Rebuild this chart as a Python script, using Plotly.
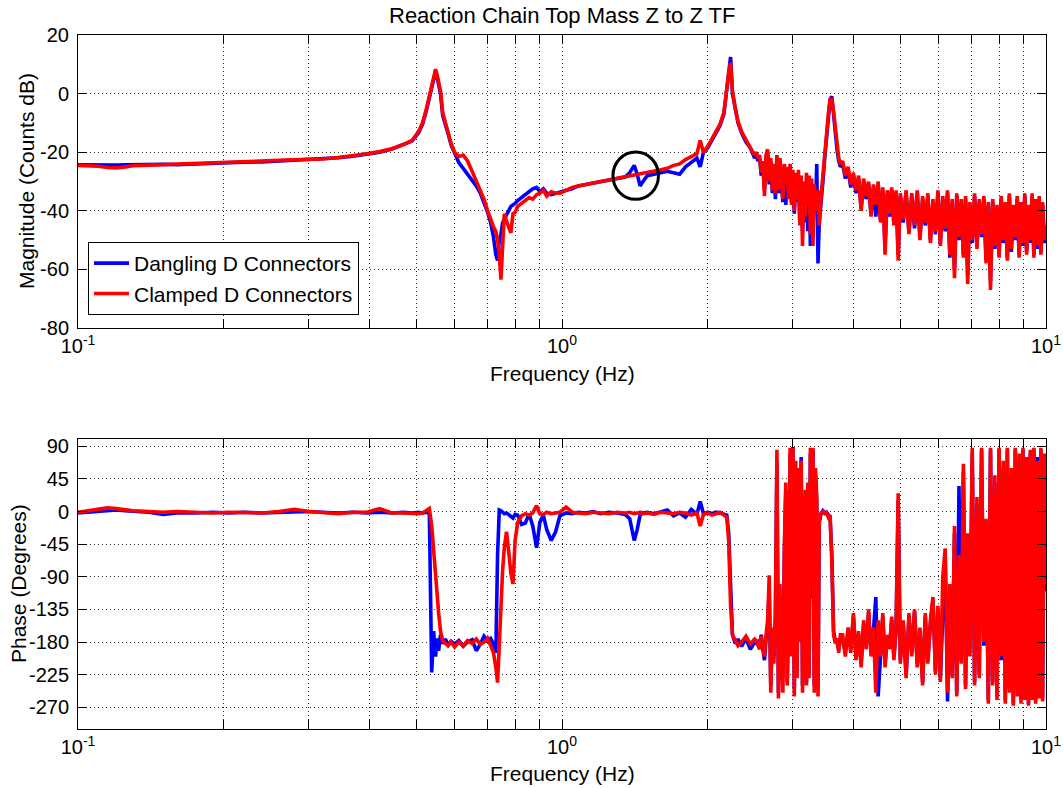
import plotly.graph_objects as go

# ---------------- data ----------------
freq = [
    0.100, 0.105, 0.110, 0.115, 0.120, 0.125, 0.130, 0.140, 0.150, 0.160, 0.175, 0.190, 0.205,
    0.220, 0.240, 0.260, 0.280, 0.300, 0.320, 0.345, 0.370, 0.395, 0.420, 0.445, 0.470, 0.490,
    0.505, 0.515, 0.525, 0.532, 0.538, 0.543, 0.548, 0.552, 0.556, 0.561, 0.567, 0.574, 0.582,
    0.590, 0.600, 0.612, 0.625, 0.638, 0.652, 0.665, 0.678, 0.690, 0.702, 0.712, 0.722, 0.730,
    0.736, 0.742, 0.748, 0.754, 0.760, 0.768, 0.776, 0.784, 0.792,
    0.800, 0.810, 0.825, 0.840, 0.855, 0.870, 0.886, 0.900, 0.915, 0.930, 0.950, 0.970, 0.990,
    1.02, 1.05, 1.08, 1.12, 1.16, 1.20, 1.25, 1.30, 1.35,
    1.38, 1.41, 1.43, 1.45, 1.47,
    1.50, 1.55, 1.60, 1.65, 1.70, 1.75, 1.80, 1.85, 1.90,
    1.93, 1.96, 2.00, 2.04, 2.08, 2.12, 2.16,
    2.19, 2.21, 2.23, 2.25, 2.28, 2.31, 2.35, 2.40, 2.45, 2.50,
    2.52, 2.54, 2.56, 2.58, 2.60, 2.62, 2.64, 2.66, 2.68, 2.70, 2.72, 2.74, 2.76, 2.78,
    2.80, 2.82, 2.84, 2.86, 2.88, 2.90, 2.92, 2.94, 2.96, 2.98, 3.00, 3.02, 3.04, 3.06,
    3.08, 3.10, 3.12, 3.14, 3.16, 3.18, 3.20, 3.22, 3.24, 3.26, 3.28, 3.30, 3.32, 3.34,
    3.36, 3.38, 3.40,
    3.43, 3.46, 3.49, 3.52, 3.55, 3.58, 3.61, 3.64, 3.67, 3.70, 3.73, 3.76,
    3.80, 3.85, 3.90, 3.95, 4.00, 4.05, 4.10, 4.15, 4.20, 4.25, 4.30, 4.35, 4.40, 4.45, 4.50,
    4.55, 4.60, 4.65, 4.70, 4.75, 4.80, 4.85, 4.90, 4.95, 5.00,
    5.07, 5.14, 5.21, 5.28, 5.35, 5.42, 5.49, 5.56, 5.63, 5.70, 5.77, 5.84, 5.91, 5.98,
    6.05, 6.12, 6.19, 6.26, 6.33, 6.40, 6.47, 6.54, 6.61, 6.68, 6.75, 6.82, 6.89, 6.96,
    7.04, 7.12, 7.20, 7.28, 7.36, 7.44, 7.52, 7.60, 7.68, 7.76,
    7.84, 7.92, 8.00, 8.08, 8.16, 8.24, 8.32, 8.40, 8.48, 8.56,
    8.64, 8.72, 8.80, 8.88, 8.96, 9.04, 9.12, 9.20, 9.28, 9.36,
    9.44, 9.52, 9.60, 9.68, 9.76, 9.84, 9.92, 10.0,
]

mag_dangling = [
    -24.3, -24.4, -24.3, -24.5, -24.4, -24.3, -24.2, -24.3, -24.1, -24.3, -24.0, -23.8, -23.6,
    -23.4, -23.3, -23.0, -22.7, -22.5, -22.3, -21.9, -21.4, -20.6, -20.0, -18.9, -17.5, -16.2,
    -13.5, -10.5, -5.5, -1.5, 2.5, 6.0, 7.6, 5.5, 3.0, 0.0, -7.5, -11.0, -13.8,
    -17.5, -20.5, -23.5, -25.5, -27.5, -29.5, -31.5, -34.0, -37.0, -40.5, -44.0, -49.0, -55.0,
    -57.0, -50.0, -48.0, -44.0, -43.0, -41.5, -40.0, -38.5, -38.0,
    -37.5, -36.5, -35.5, -34.5, -33.5, -32.5, -32.0, -33.5, -32.5, -34.0, -34.5, -34.0, -33.5,
    -33.0, -32.5, -31.5, -31.0, -30.5, -30.0, -29.5, -29.0, -28.5,
    -27.0, -24.5, -27.5, -31.5, -30.0,
    -28.0, -27.5, -27.0, -26.5, -27.0, -27.5, -25.0, -23.5, -22.0,
    -25.0, -20.0, -18.5, -16.0, -13.5, -11.0, -7.0,
    2.0, 8.0, 12.5, 0.0, -6.0, -10.0, -13.5, -16.5, -18.5, -22.0,
    -21, -23, -22, -28, -24, -33, -22, -20, -31, -23, -34, -25, -36, -22,
    -34, -23, -31, -37, -26, -38, -27, -35, -26, -37, -28, -41, -29, -37,
    -28, -44, -30, -47, -32, -44, -30, -47, -31, -52, -31, -48, -33, -40,
    -24, -58, -44,
    -38, -30, -22, -15, -8, -2, -1, -8, -14, -19, -23, -25,
    -24, -29, -26, -32, -28, -34, -29, -39, -30, -36, -31, -41, -32, -42, -31,
    -43, -33, -52, -34, -42, -33, -44, -34, -55, -35,
    -44, -34, -47, -35, -46, -34, -49, -36, -45, -35, -50, -37, -48, -34,
    -51, -36, -47, -34, -56, -37, -60, -35, -50, -37, -55, -36, -62, -38,
    -51, -35, -52, -37, -49, -36, -57, -38, -64, -37,
    -53, -39, -55, -36, -51, -38, -56, -35, -54, -39,
    -50, -36, -55, -38, -52, -35, -54, -39, -51, -35,
    -55, -37, -53, -36, -54, -38, -51, -46,
]

mag_clamped = [
    -24.5, -24.6, -24.8, -25.2, -25.4, -25.0, -24.6, -24.4, -24.2, -24.0, -23.7, -23.4, -23.3,
    -23.2, -23.0, -22.8, -22.6, -22.5, -22.3, -21.8, -21.2, -20.5, -19.8, -18.8, -17.4, -16.0,
    -13.0, -10.0, -5.0, -1.0, 3.0, 6.5, 8.3, 6.5, 4.0, 1.0, -6.5, -10.0, -13.0,
    -17.0, -20.0, -21.5, -21.0, -23.0, -26.5, -30.0, -33.0, -36.0, -40.0, -43.0, -45.5, -47.0,
    -50.0, -55.0, -63.5, -52.0, -41.0, -43.5, -45.5, -47.5, -41.0,
    -40.5, -38.5, -37.5, -36.5, -35.5, -36.0, -34.5, -34.0, -33.0, -35.0, -33.5, -34.0, -34.0,
    -33.0, -32.0, -31.5, -31.0, -30.5, -30.0, -29.5, -29.0, -28.5,
    -28.3, -28.0, -27.8, -27.6, -27.4,
    -27.0, -26.6, -26.0, -25.5, -24.5, -24.0, -22.5, -21.5, -20.5,
    -16.0, -20.0, -18.0, -15.5, -13.0, -10.5, -6.5,
    3.0, 7.0, 10.5, 1.0, -5.0, -9.5, -13.0, -16.0, -18.5, -21.0,
    -20, -22, -21, -27, -23, -35, -21, -19, -30, -22, -33, -24, -34, -21,
    -33, -22, -30, -36, -24, -31, -25, -36, -24, -38, -26, -40, -27, -36,
    -26, -45, -28, -52, -30, -42, -27, -38, -28, -48, -29, -52, -31, -38,
    -40, -33, -45,
    -35, -27, -20, -14, -7, -2, -2, -6, -12, -18, -22, -24,
    -23, -28, -25, -31, -27, -33, -28, -40, -29, -35, -30, -42, -31, -38, -30,
    -44, -32, -55, -33, -41, -32, -45, -33, -57, -34,
    -43, -33, -48, -34, -45, -33, -50, -35, -44, -34, -51, -36, -47, -33,
    -52, -35, -46, -33, -55, -36, -63, -34, -49, -36, -56, -35, -65, -37,
    -50, -34, -53, -36, -48, -35, -58, -37, -67, -36,
    -52, -38, -56, -35, -50, -37, -57, -34, -53, -38,
    -49, -35, -56, -37, -51, -34, -55, -38, -50, -34,
    -56, -36, -52, -35, -55, -37, -50, -45,
]

phase_dangling = [
    -2, -1, 0, 2, 2, 1, 0, -1, -4, -2, -2, -1, -2,
    -1, -2, -1, -1, 0, -1, -2, -1, -2, -1, -2, -1, -2,
    -1, -2, -1, -3, -222, -165, -200, -175, -192, -170, -182, -176, -184,
    -179, -183, -178, -186, -180, -177, -192, -183, -172, -178, -175, -183, -195,
    -60, 2, 1, -1, -3, -2, -4, -6, -9,
    -4, -5, -18, -16, -3, -20, -50, -15, -5, -25, -40, -28, -6,
    -2, -3, -1, -2, 0, -3, -1, -2, -4,
    -10, -40, -25, -5, -2,
    -1, -3, -1, 2, -6, -2, -8, 3, -4,
    14, -3, -1, -3, -1, -2, -3,
    -5, -30, -120, -170, -182, -176, -186, -175, -190, -180,
    -182, -180, -185, -170, -190, -205, -175, -160, -110, -240, -165, -200, -150, 70,
    -250, -120, -190, -230, -60, 30, -235, -130, 80, -190, 89, -245, 60, -220,
    50, -175, 75, -240, -180, 20, -235, 30, -225, 80, -120, 85, -240, 50,
    10, -245, -15,
    -3, 1, -2, -1, -5, -8, -60, -165, -178, -180, -190, -175,
    -175, -195, -165, -190, -145, -200, -170, -210, -155, -185, -140, -195, -165, -118, -255,
    -195, -145, -210, -172, -188, -150, -200, -165, 15, -205,
    -155, -225, -145, -195, -138, -210, -165, -235, -145, -205, -155, -122, -220, -135,
    -230, -125, -60, -262, -110, -225, -30, -250, 35, -205, 55, -240, -40, -195,
    80, -235, 10, -225, 85, -185, -20, -260, 85, -235,
    40, -255, 85, -205, 60, -260, 85, -245, 50, -265,
    85, -245, 70, -260, 85, -250, 70, -265, 80, -255,
    85, -260, 75, -255, 85, -258, 70, -110,
]

phase_clamped = [
    -1, 1, 3, 5, 4, 2, 1, 0, -1, 0, -1, -2, -1,
    -1, -2, 0, 3, 0, -1, -3, -1, -1, 4, -2, -2, -3,
    -3, -2, 2, 4, -20, -55, -90, -125, -140, -165, -178, -182, -185,
    -180, -187, -180, -185, -178, -182, -176, -183, -180, -175, -185, -195, -215,
    -236, -185, -120, -80, -50, -28, -55, -85, -100,
    -40, -15, -6, -3, -5, -2, 8, -3, -4, -1, -3, -2, -1,
    6, -1, -2, -3, -1, -2, -3, -1, -2,
    -1, -3, -2, -1, -3,
    -2, -4, -1, -2, -3, -1, -2, -5, -2,
    -20, -4, -2, -5, -3, -1, -5,
    -8, -40, -130, -170, -178, -185, -180, -172, -183, -176,
    -178, -186, -190, -172, -185, -200, -170, -150, -88, -250, -160, -210, -140, 85,
    -258, -100, -200, -250, -50, 40, -240, -120, 88, -200, 88, -255, 70, -230,
    60, -180, 70, -250, -160, 30, -240, 40, -230, 88, -100, 88, -250, 60,
    20, -255, -10,
    -2, 0, -3, -2, -8, -5, -70, -170, -182, -175, -195, -170,
    -170, -200, -160, -195, -140, -205, -165, -215, -150, -190, -135, -200, -160, -250, -150,
    -200, -140, -215, -170, -190, -145, -205, -160, 25, -210,
    -150, -230, -140, -200, -135, -215, -160, -240, -140, -210, -150, -118, -225, -130,
    -235, -90, -51, -250, -100, -230, -20, -255, -60, -210, 66, -245, -30, -200,
    88, -240, 20, -230, 88, -180, -10, -265, 88, -240,
    50, -260, 88, -200, 70, -265, 88, -250, 60, -268,
    88, -255, 80, -265, 88, -260, 75, -268, 85, -260,
    88, -265, 70, -258, 88, -262, 80, -100,
]

# tick labels
freq_tickvals = [0.1, 0.2, 0.3, 0.4, 0.5, 0.6, 0.7, 0.8, 0.9,
                 1, 2, 3, 4, 5, 6, 7, 8, 9, 10]
freq_ticktext = ["10<sup>-1</sup>", "", "", "", "", "", "", "", "",
                 "10<sup>0</sup>", "", "", "", "", "", "", "", "",
                 "10<sup>1</sup>"]
mag_tickvals = [-80, -60, -40, -20, 0, 20]
mag_ticktext = ["-80", "-60", "-40", "-20", "0", "20"]
phase_tickvals = [-270, -225, -180, -135, -90, -45, 0, 45, 90]
phase_ticktext = ["-270", "-225", "-180", "-135", "-90", "-45", "0", "45", "90"]

# highlighted feature (circled in the magnitude plot)
circle_freq = 1.42          # Hz (centre)
circle_mag = -28.0          # dB (centre)
circle_half_decades = 0.047  # half width, in decades of frequency
circle_half_db = 8.1         # half height, in dB

assert len(freq) == len(mag_dangling) == len(mag_clamped) == len(phase_dangling) == len(phase_clamped)

# ---------------- figure ----------------
FONT = "Liberation Sans, Arial, Helvetica, sans-serif"
BLUE = "#0000ff"
RED = "#ff0000"
W, H = 1063, 788
L, R = 78, 17
PW = W - L - R
LW = 3.6


def px_x(px):
    return (px - L) / PW


def px_y(py):
    return 1 - py / H


fig = go.Figure()
fig.add_trace(go.Scatter(x=freq, y=mag_dangling, mode="lines", name="Dangling D Connectors",
                         line=dict(color=BLUE, width=LW), xaxis="x", yaxis="y"))
fig.add_trace(go.Scatter(x=freq, y=mag_clamped, mode="lines", name="Clamped D Connectors",
                         line=dict(color=RED, width=LW), xaxis="x", yaxis="y"))
fig.add_trace(go.Scatter(x=freq, y=phase_dangling, mode="lines", name="Dangling D Connectors",
                         line=dict(color=BLUE, width=LW), xaxis="x2", yaxis="y2", showlegend=False))
fig.add_trace(go.Scatter(x=freq, y=phase_clamped, mode="lines", name="Clamped D Connectors",
                         line=dict(color=RED, width=LW), xaxis="x2", yaxis="y2", showlegend=False))

GRID = dict(showgrid=True, gridcolor="#333333", gridwidth=1, griddash="1px,3px", zeroline=False)
AX = dict(ticks="inside", ticklen=9, tickwidth=1, tickcolor="black", showline=True,
          linecolor="black", linewidth=1, mirror="ticks", automargin=False,
          tickfont=dict(family=FONT, size=20, color="black"))

xcommon = dict(type="log", range=[-1, 1], tickmode="array", tickvals=freq_tickvals,
               ticktext=freq_ticktext, domain=[0, 1], **GRID, **AX)

top_dom = [px_y(328), px_y(35)]
bot_dom = [px_y(729), px_y(439)]

fig.update_layout(
    width=W, height=H,
    margin=dict(l=L, r=R, t=0, b=0, autoexpand=False),
    paper_bgcolor="white", plot_bgcolor="white",
    font=dict(family=FONT, color="black"),
    showlegend=True,
    legend=dict(x=px_x(88), y=px_y(315), xanchor="left", yanchor="bottom",
                bgcolor="white", bordercolor="black", borderwidth=1,
                font=dict(family=FONT, size=21, color="black"),
                tracegroupgap=0, itemwidth=35),
    xaxis=dict(anchor="y", **xcommon),
    xaxis2=dict(anchor="y2", **xcommon),
    yaxis=dict(anchor="x", domain=top_dom, range=[-80, 20], tickmode="array",
               tickvals=mag_tickvals, ticktext=mag_ticktext, ticklabelstandoff=4, **GRID, **AX),
    yaxis2=dict(anchor="x2", domain=bot_dom, range=[-300, 100], tickmode="array",
                tickvals=phase_tickvals, ticktext=phase_ticktext, ticklabelstandoff=4, **GRID, **AX),
)

fig.add_shape(type="circle", xref="x", yref="y",
              x0=circle_freq / 10 ** circle_half_decades, x1=circle_freq * 10 ** circle_half_decades,
              y0=circle_mag - circle_half_db, y1=circle_mag + circle_half_db,
              line=dict(color="black", width=3))

ann_font = dict(family=FONT, size=21, color="black")
fig.add_annotation(text="Reaction Chain Top Mass Z to Z TF", xref="paper", yref="paper",
                   x=0.5, y=px_y(16), xanchor="center", yanchor="middle", showarrow=False,
                   font=dict(family=FONT, size=22, color="black"))
fig.add_annotation(text="Magnitude (Counts dB)", xref="paper", yref="paper",
                   x=px_x(27), y=px_y(181), textangle=-90, xanchor="center", yanchor="middle",
                   showarrow=False, font=ann_font)
fig.add_annotation(text="Phase (Degrees)", xref="paper", yref="paper",
                   x=px_x(18), y=px_y(584), textangle=-90, xanchor="center", yanchor="middle",
                   showarrow=False, font=ann_font)
fig.add_annotation(text="Frequency (Hz)", xref="paper", yref="paper",
                   x=0.5, y=px_y(373), xanchor="center", yanchor="middle",
                   showarrow=False, font=ann_font)
fig.add_annotation(text="Frequency (Hz)", xref="paper", yref="paper",
                   x=0.5, y=px_y(773), xanchor="center", yanchor="middle",
                   showarrow=False, font=ann_font)

fig.write_html("out.html")
